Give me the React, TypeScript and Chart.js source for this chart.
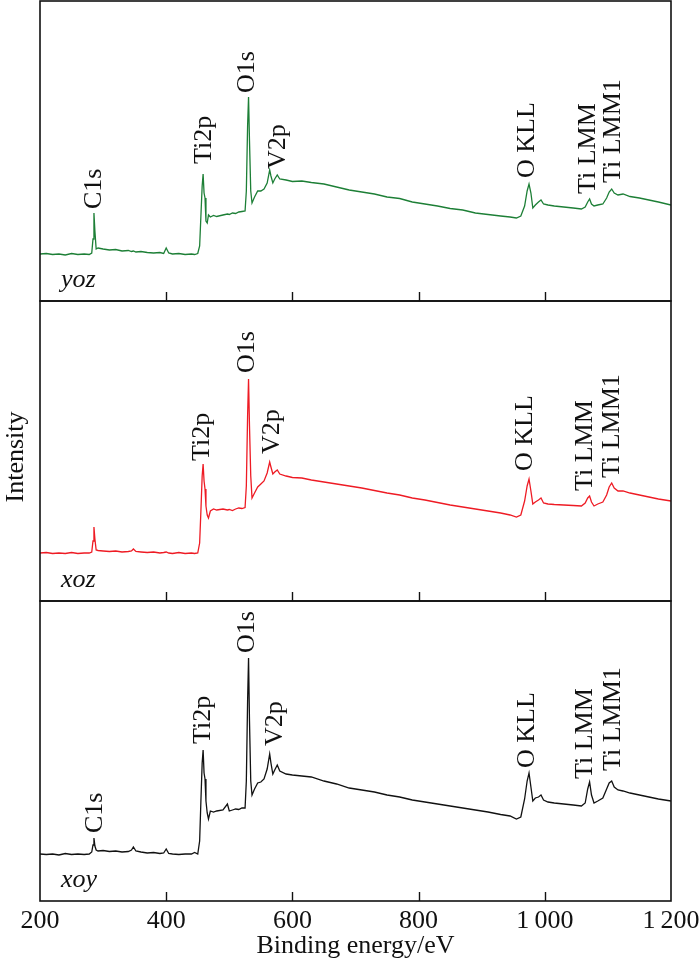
import { useEffect, useRef } from 'react';
import { Chart, registerables } from 'chart.js';

Chart.register(...registerables);

// ---------- data ----------
const energies = [
  200, 210, 220, 230, 240, 250, 260, 270, 278, 282, 284, 285.5, 287, 289, 292, 300, 310, 320, 330, 340,
  345, 348, 352, 360, 370, 380, 390, 396, 400, 404, 410, 420, 430, 440, 445, 450, 453, 455, 457, 458.5,
  460, 461.5, 463, 465, 467, 470, 475, 480, 490, 497, 500, 505, 510, 515, 520, 525, 527, 529, 530.5, 532,
  534, 536, 540, 545, 550, 555, 560, 564, 566, 569, 572, 576, 580, 590, 600, 615, 630, 650, 670, 690,
  710, 730, 750, 770, 790, 810, 830, 850, 870, 890, 910, 930, 945, 955, 962, 968, 972, 975, 978, 981,
  985, 990, 994, 998, 1005, 1015, 1030, 1045, 1058, 1064, 1068, 1071, 1074, 1078, 1084, 1092, 1098, 1102, 1106, 1110,
  1116, 1124, 1135, 1150, 1165, 1180, 1190, 1200,
];

const yozIntensity = [
  47, 47.5, 46.5, 47, 46, 47.5, 46.5, 47, 46.5, 48, 62, 88, 70, 52, 53, 52, 51, 51.5, 50, 50.5,
  49.5, 50, 49, 49.5, 48.5, 48, 48.5, 47.5, 53, 48, 47, 47.5, 46.5, 47, 46.5, 47.5, 55, 85, 115, 127,
  108, 103, 80, 78, 86, 84, 85.5, 84.5, 86, 87, 86.5, 88, 87.5, 89, 89.5, 90, 110, 175, 204, 160,
  110, 98, 104, 110, 110, 112, 118, 131, 125, 118, 122, 126, 122, 121, 119.5, 120, 118.5, 117, 114, 111,
  109, 107, 104, 102.5, 99, 97, 95, 92.5, 91, 88, 86.5, 85, 84, 83, 85, 95, 110, 117, 108, 93,
  96, 99, 101, 97, 96, 95, 94, 93, 92, 94, 99, 102, 97, 95, 96, 97, 103, 109, 112, 108,
  106, 107, 104.5, 103, 101, 99, 97.5, 96,
];

const xozIntensity = [
  48, 48.5, 47.5, 48, 47.5, 48.5, 47.5, 48, 48, 49, 60, 74, 62, 51, 50.5, 50, 49.5, 50, 49, 49.5,
  50, 52, 49.5, 49, 48.5, 49, 48, 48.5, 49, 48, 47.5, 48.5, 47.5, 48, 47.5, 48, 58, 90, 125, 137,
  120, 112, 95, 86, 83, 90, 92, 91, 92, 91, 91.5, 90.5, 92, 93, 92.5, 93.5, 115, 185, 222, 175,
  125, 103, 108, 114, 117, 120, 128, 139, 134, 127, 129, 131, 127, 125, 123.5, 123, 121, 119, 117, 115,
  113, 110.5, 108, 106, 103, 101, 98.5, 96, 94, 92, 90, 88, 86, 84, 86, 100, 115, 122, 110, 97,
  99, 101, 103, 98, 97, 96.5, 96, 95.5, 95, 98, 103, 105, 99, 95, 97, 99, 106, 114, 118, 113,
  110, 110, 108, 106, 104, 102, 101, 100,
];

const xoyIntensity = [
  47, 46.5, 47, 46, 47.5, 46.5, 47, 46.5, 47, 49, 56, 63, 55, 51, 50, 50.5, 49.5, 50, 49, 49.5,
  51, 54, 50, 49, 48, 48.5, 47.5, 48, 52, 47.5, 47, 46.5, 47, 47, 48.5, 47, 60, 100, 138, 151,
  128, 122, 100, 88, 82, 90, 89, 90, 91, 97, 90, 91, 92, 91.5, 93, 93, 120, 200, 243, 180,
  120, 106, 112, 118, 119, 122, 132, 147, 138, 127, 131, 136, 130, 127, 126, 125, 124, 120, 117, 113,
  111, 109, 106, 104, 101, 99, 97, 95, 93, 91, 89, 86.5, 85, 82, 84, 102, 120, 128, 114, 100,
  103, 104, 106, 101, 99, 98, 97, 96, 95, 98, 112, 119, 106, 98, 100, 103, 112, 118, 120, 114,
  111, 110, 108, 106, 104, 102, 101, 100,
];

const tickValues = [200, 400, 600, 800, 1000, 1200];
const tickLabels = ['200', '400', '600', '800', '1\u2009000', '1\u2009200'];

const panelNames = ['yoz', 'xoz', 'xoy'];
const panelColors = ['#1d7f36', '#ee1b24', '#111111'];

const peakTexts = ['C1s', 'Ti2p', 'O1s', 'V2p', 'O KLL', 'Ti LMM', 'Ti LMM1'];
const yozLabelEnergy = [285.6, 459.9, 528, 577.2, 971.8, 1068.5, 1108.1];
const yozLabelLevel = [92, 137, 208, 132, 123, 107, 118];
const xozLabelEnergy = [null, 456.7, 528, 567.7, 968.6, 1063.7, 1106.5];
const xozLabelLevel = [null, 140, 228, 147, 130, 110, 123];
const xoyLabelEnergy = [287.2, 458.3, 528, 572.4, 971.8, 1063.7, 1108];
const xoyLabelLevel = [68, 157, 248, 155, 133, 122, 130];

const xTitle = 'Binding energy/eV';
const yTitle = 'Intensity';

const FONT = "'Liberation Serif', 'Times New Roman', serif";

const axisIds = ['yTop', 'yMid', 'yBot'];
const seriesList = [yozIntensity, xozIntensity, xoyIntensity];
const labelEnergyList = [yozLabelEnergy, xozLabelEnergy, xoyLabelEnergy];
const labelLevelList = [yozLabelLevel, xozLabelLevel, xoyLabelLevel];

const framePlugin = {
  id: 'framePlugin',
  afterDatasetsDraw(chart: any) {
    const ctx = chart.ctx;
    const xs = chart.scales.x;
    const area = chart.chartArea;
    ctx.save();
    axisIds.forEach((id, p) => {
      const ys = chart.scales[id];
      // frame
      ctx.strokeStyle = '#111';
      ctx.lineWidth = 1.6;
      ctx.strokeRect(area.left, ys.top, area.right - area.left, ys.bottom - ys.top);
      // inward ticks at the bottom of each panel
      ctx.lineWidth = 1.4;
      tickValues.slice(1, -1).forEach((v) => {
        const px = Math.round(xs.getPixelForValue(v)) + 0.5;
        ctx.beginPath();
        ctx.moveTo(px, ys.bottom);
        ctx.lineTo(px, ys.bottom - 9);
        ctx.stroke();
      });
      // panel name
      ctx.fillStyle = '#111';
      ctx.font = `italic 26px ${FONT}`;
      ctx.textAlign = 'left';
      ctx.textBaseline = 'alphabetic';
      ctx.fillText(panelNames[p], area.left + 21, ys.top + 286);
      // peak labels
      ctx.font = `26px ${FONT}`;
      peakTexts.forEach((t, i) => {
        const e = labelEnergyList[p][i];
        const lv = labelLevelList[p][i];
        if (e == null || lv == null) return;
        ctx.save();
        ctx.translate(xs.getPixelForValue(e), ys.getPixelForValue(lv));
        ctx.rotate(-Math.PI / 2);
        ctx.textAlign = 'left';
        ctx.textBaseline = 'middle';
        ctx.fillText(t, 0, 0);
        ctx.restore();
      });
    });
    // y title
    ctx.save();
    ctx.font = `26px ${FONT}`;
    ctx.fillStyle = '#111';
    ctx.translate(23, 457);
    ctx.rotate(-Math.PI / 2);
    ctx.textAlign = 'center';
    ctx.textBaseline = 'alphabetic';
    ctx.fillText(yTitle, 0, 0);
    ctx.restore();
    ctx.restore();
  },
};

function yAxis() {
  return {
    type: 'linear' as const,
    position: 'left' as const,
    stack: 'panels',
    stackWeight: 1,
    min: 0,
    max: 300,
    ticks: { display: false },
    grid: { display: false, drawTicks: false },
    border: { display: false },
    title: { display: false },
    afterFit: (s: any) => {
      s.width = 0;
    },
  };
}

export default function App() {
  const ref = useRef<HTMLCanvasElement | null>(null);
  useEffect(() => {
    if (!ref.current) return;
    Chart.defaults.font.family = FONT;
    const chart = new Chart(ref.current, {
      type: 'line',
      data: {
        datasets: seriesList.map((arr, p) => ({
          label: panelNames[p],
          data: energies.map((e, i) => ({ x: e, y: arr[i] })),
          borderColor: panelColors[p],
          borderWidth: 1.3,
          pointRadius: 0,
          tension: 0,
          fill: false,
          yAxisID: axisIds[p],
          xAxisID: 'x',
        })),
      },
      options: {
        animation: false,
        responsive: false,
        events: [],
        layout: { padding: { left: 40, right: 29, top: 1, bottom: 0 } },
        plugins: { legend: { display: false }, tooltip: { enabled: false }, title: { display: false } },
        scales: {
          x: {
            type: 'linear',
            position: 'bottom',
            min: 200,
            max: 1200,
            afterBuildTicks: (axis: any) => {
              axis.ticks = tickValues.map((v) => ({ value: v }));
            },
            afterFit: (s: any) => {
              s.height = 68;
              s.paddingLeft = 0;
              s.paddingRight = 0;
            },
            ticks: {
              autoSkip: false,
              maxRotation: 0,
              padding: 5,
              color: '#111',
              font: { size: 26, family: FONT },
              callback: (v: any) => {
                const i = tickValues.indexOf(Number(v));
                return i >= 0 ? tickLabels[i] : '';
              },
            },
            grid: { display: false, drawTicks: false },
            border: { display: false },
            title: {
              display: true,
              text: xTitle,
              color: '#111',
              font: { size: 26, family: FONT },
              padding: { top: 0, bottom: 7 },
            },
          },
          // stacked left axes are placed in reverse order of definition
          yBot: yAxis(),
          yMid: yAxis(),
          yTop: yAxis(),
        } as any,
      },
      plugins: [framePlugin],
    });
    return () => chart.destroy();
  }, []);
  return (
    <div style={{ position: 'absolute', left: 0, top: 0, width: 700, height: 969, background: '#fff' }}>
      <canvas ref={ref} width={700} height={969} style={{ width: 700, height: 969, display: 'block' }} />
    </div>
  );
}
